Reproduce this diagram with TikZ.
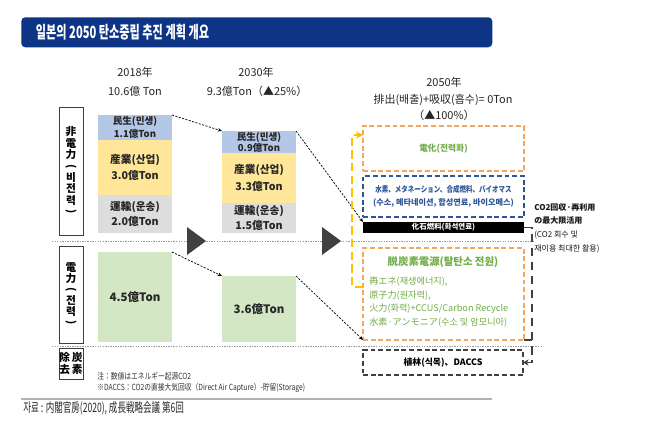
\documentclass[tikz,border=0pt]{standalone}
\usepackage{fontspec}
\usepackage{graphicx}
\setmainfont{Noto Sans CJK KR}
\newfontfamily\narrowfont[FakeStretch=0.66]{Noto Sans CJK KR}
\newfontfamily\semifont[FakeStretch=0.8]{Noto Sans CJK KR}
\usetikzlibrary{arrows.meta}

\newlength\px
\setlength\px{0.025cm}
\newcommand\fsz[2]{\fontsize{#1}{#2}\selectfont}
\newcommand\vlp{\rotatebox[origin=c]{-90}{(}}
\newcommand\vrp{\rotatebox[origin=c]{-90}{)}}

\definecolor{titleblue}{HTML}{0E3486}
\definecolor{barblue}{HTML}{B4C7E7}
\definecolor{baryellow}{HTML}{FFE699}
\definecolor{bargray}{HTML}{DDDDDD}
\definecolor{bargreen}{HTML}{D3E7C4}
\definecolor{orangedash}{HTML}{F2A660}
\definecolor{bluedash}{HTML}{2E5597}
\definecolor{textgreen}{HTML}{70AD47}
\definecolor{arrowyellow}{HTML}{FFC000}
\definecolor{darkline}{HTML}{404040}

\tikzset{
  yeartxt/.style={inner sep=0pt, font=\fsz{7.8}{9}, text=black!85},
  bar/.style={anchor=north west, inner sep=0pt, outer sep=0pt, minimum width=74\px,
    align=center, text=black!85},
  labbox/.style={anchor=north west, draw=black!75, line width=0.7pt, fill=white,
    inner sep=0pt, outer sep=0pt, minimum width=24\px, align=center,
    font=\bfseries\fsz{7.6}{8.1}},
  dashbox/.style={anchor=north west, inner sep=0pt, outer sep=0pt, minimum width=161\px,
    line width=1.4pt, dash pattern=on 3.5pt off 2pt, align=center},
  flowarr/.style={line width=0.5pt, dash pattern=on 1.5pt off 1pt, -{Stealth[length=3pt,width=2.5pt]}},
  sepline/.style={gray!80, line width=0.4pt, dash pattern=on 1pt off 0.8pt},
  playtri/.style={fill=darkline}
}

\begin{document}
\begin{tikzpicture}[x=0.025cm, y=-0.025cm]
  \fill[white] (0,0) rectangle (650,434);
  \useasboundingbox (0,0) rectangle (650,434);

  % title bar
  \node[anchor=north west, fill=titleblue, rounded corners=4\px, minimum width=471\px,
    minimum height=30\px, inner sep=0pt] (titlebar) at (21,17) {};
  \node[anchor=west, text=white, font=\narrowfont\bfseries\fsz{12}{13}] (titletxt)
    at (31,32) {일본의 2050 탄소중립 추진 계획 개요};

  % year headers
  \node[yeartxt] (y18) at (135,72) {2018年};
  \node[yeartxt] (t18) at (135,91) {10.6億 Ton};
  \node[yeartxt] (y30) at (256,72) {2030年};
  \node[yeartxt] (t30) at (257,91) {9.3億Ton（▲25\%）};
  \node[yeartxt] (y50) at (444,82) {2050年};
  \node[yeartxt] (t50) at (443,100) {排出(배출)+吸収(흡수)= 0Ton};
  \node[yeartxt] (p50) at (444,115) {（▲100\%）};

  % separators
  \draw[sepline] (52,241) -- (533,241);
  \draw[sepline] (52,346) -- (542,346);

  % row labels
  \node[labbox, minimum height=128\px] (lab1) at (59,107)
    {非\\電\\力\\\vlp\\비\\전\\력\\\vrp};
  \node[labbox, minimum height=97\px, font=\bfseries\fsz{7.6}{7.8}] (lab2) at (59,246)
    {電\\力\\\vlp\\전\\력\\\vrp};
  \node[labbox, minimum height=31\px, font=\bfseries\fsz{7.6}{8.6}] (lab3) at (59,348)
    {除\,炭\\去\,素};

  % 2018 bars
  \node[bar, fill=barblue, minimum height=25\px, font=\bfseries\fsz{6.8}{9.2}] (min18) at (98,115)
    {民生(민생)\\1.1億Ton};
  \node[bar, fill=baryellow, minimum height=55\px, font=\bfseries\fsz{7.6}{11.4}] (ind18) at (98,140)
    {産業(산업)\\3.0億Ton};
  \node[bar, fill=bargray, minimum height=38\px, font=\bfseries\fsz{7.6}{10.7}] (tra18) at (98,195)
    {運輸(운송)\\2.0億Ton};
  \node[bar, fill=bargreen, minimum height=90\px, font=\bfseries\fsz{8.2}{10}] (pow18) at (98,252)
    {4.5億Ton};

  % 2030 bars
  \node[bar, fill=barblue, minimum height=22\px, font=\bfseries\fsz{6.8}{7.8}] (min30) at (222,131)
    {民生(민생)\\0.9億Ton};
  \node[bar, fill=baryellow, minimum height=50\px, font=\bfseries\fsz{7.6}{12}] (ind30) at (222,153)
    {産業(산업)\\3.3億Ton};
  \node[bar, fill=bargray, minimum height=30\px, font=\bfseries\fsz{7.6}{10.7}] (tra30) at (222,203)
    {運輸(운송)\\1.5億Ton};
  \node[bar, fill=bargreen, minimum height=66\px, font=\bfseries\fsz{8.2}{10}] (pow30) at (222,276)
    {3.6億Ton};

  % play marks
  \fill[playtri] (187,227) -- (187,255) -- (206,241) -- cycle;
  \fill[playtri] (322,227) -- (322,255) -- (341,241) -- cycle;

  % 2050 boxes
  \node[dashbox, draw=orangedash, minimum height=45\px, text=textgreen,
    font=\bfseries\fsz{6.2}{7}] (elec) at (363,126) {電化(전력화)};
  \node[dashbox, draw=bluedash, minimum height=41\px, text=bluedash,
    font=\bfseries\fsz{5.8}{9.2}] (hyd) at (363,176)
    {{\semifont\bfseries 水素、メタネーション、合成燃料、バイオマス}\\(수소, 메타네이션, 합성연료, 바이오메스)};
  \node[anchor=north west, fill=black, inner sep=0pt, outer sep=0pt, minimum width=161\px,
    minimum height=11\px, text=white, font=\bfseries\fsz{5.3}{6}] (fossil) at (363,222)
    {化石燃料(화석연료)};
  \node[dashbox, draw=orangedash, minimum height=92\px] (decarb) at (363,248) {};
  \node[text=textgreen, font=\bfseries\fsz{7.4}{8}, inner sep=0pt] (dctitle) at (443,262)
    {脱炭素電源(탈탄소 전원)};
  \node[anchor=north west, align=left, text=textgreen, font=\fsz{6.5}{9.6}, inner sep=0pt]
    (dclist) at (369,277)
    {再エネ(재생에너지),\\原子力(원자력),\\火力(화력)+CCUS/Carbon Recycle\\水素·アンモニア(수소 및 암모니아)};
  \node[dashbox, draw=darkline, minimum width=160\px, minimum height=25\px,
    line width=1.2pt, font=\bfseries\fsz{6.3}{7}] (removal) at (363,350)
    {植林(식목)、DACCS};

  % CO2 note
  \node[anchor=north west, align=left, inner sep=0pt, font=\fsz{5.7}{9.8}, text=black!90]
    (co2txt) at (534,203)
    {\textbf{CO2回収·再利用}\\\textbf{の最大限活用}\\(CO2 회수 및\\재이용 최대한 활용)};

  % connectors
  \draw[flowarr] (min18.north east) -- (min30.north west);
  \draw[flowarr] (pow18.north east) -- (pow30.north west);
  \draw[flowarr] (min30.north east) -- (fossil.north west);
  \draw[flowarr] (pow30.north east) -- (decarb.south west);

  \coordinate (ybot) at (363,287);
  \coordinate (ytop) at (363,135);
  \draw[arrowyellow, line width=1.5pt, dash pattern=on 6pt off 3pt,
    -{Stealth[length=5pt,width=5pt]}] (ybot) -- ++(-11,0) |- (ytop);

  \draw[darkline, line width=1.4pt, dash pattern=on 6pt off 4pt,
    -{Stealth[length=4pt,width=4.5pt]}] (fossil.east) -- ++(8,0) |- (removal.east);
  \draw[darkline, line width=1.2pt] (decarb.south east) -- ++(8,0);

  % notes and source
  \node[anchor=north west, align=left, inner sep=0pt, font=\semifont\fsz{6}{7.8}, text=black!80]
    (notes) at (97,372)
    {注：数値はエネルギー起源CO2\\※DACCS：CO2の直接大気回収（Direct Air Capture）-貯留(Storage)};
  \draw[gray!60, line width=0.8pt] (21,399) -- (492,399);
  \node[anchor=west, inner sep=0pt, font=\narrowfont\fsz{9.2}{10}, text=black!85] (source)
    at (23,408) {자료 : 内閣官房(2020), 成長戦略会議 第6回};
\end{tikzpicture}
\end{document}
